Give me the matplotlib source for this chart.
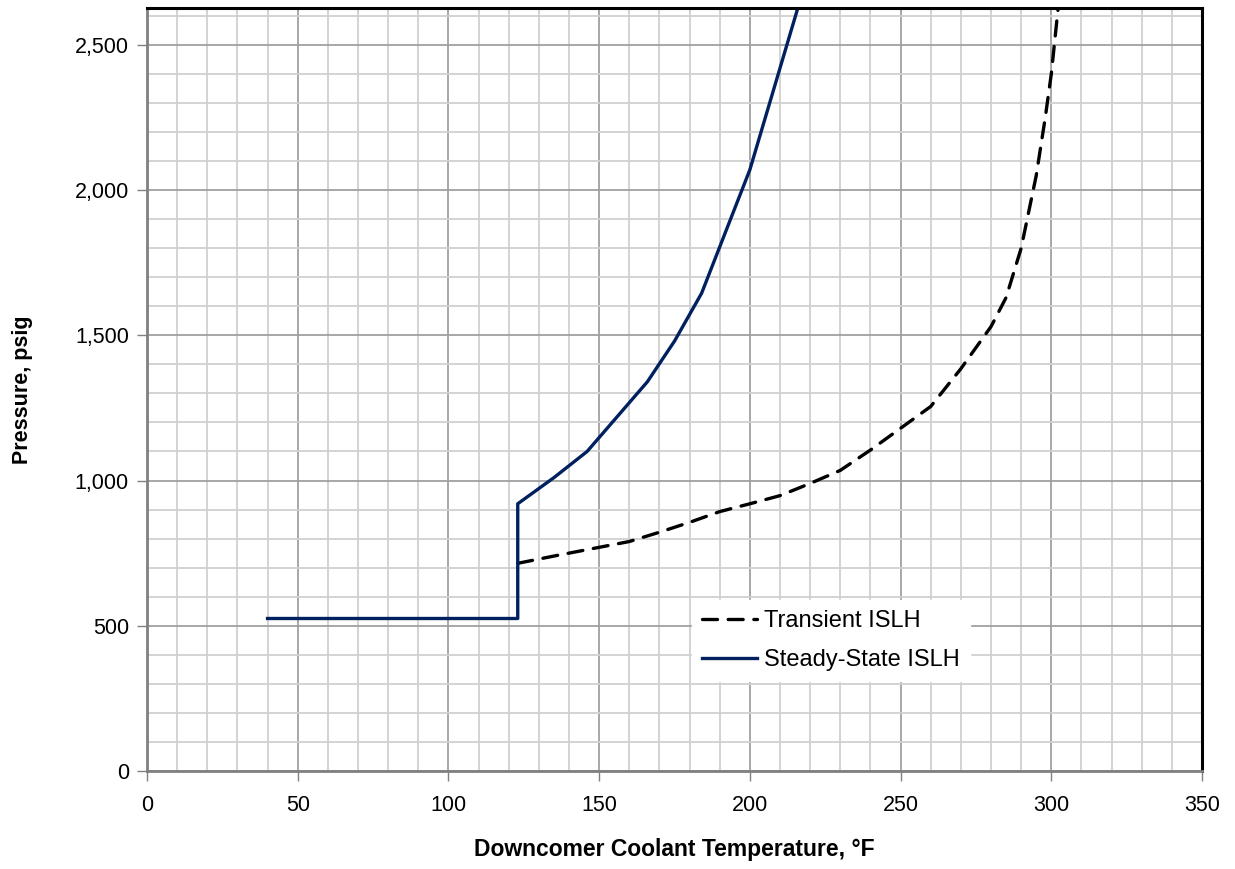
import numpy as np
import matplotlib
matplotlib.use("Agg")
import matplotlib.pyplot as plt
from matplotlib.ticker import MultipleLocator, FuncFormatter

plt.rcParams['font.family'] = ['Liberation Sans', 'DejaVu Sans']

# steady-state ISLH curve (temperature F, pressure psig)
steady_t = [40, 123, 123, 135, 146, 166, 175, 184, 200, 218]
steady_p = [525, 525, 920, 1010, 1100, 1340, 1480, 1645, 2070, 2700]

# transient ISLH curve
trans_t = [123, 135, 150, 160, 170, 180, 190, 200, 210, 220, 230, 240, 250,
           260, 270, 280, 285, 290, 295, 298, 300, 302, 303]
trans_p = [715, 740, 770, 790, 822, 856, 893, 920, 948, 990, 1035, 1105, 1180,
           1255, 1385, 1530, 1630, 1800, 2050, 2250, 2400, 2600, 2700]

fig = plt.figure(figsize=(12.35, 8.69), dpi=100)
ax = fig.add_axes([0.119, 0.1128, 0.8543, 0.878])

ax.set_xlim(0, 350)
ax.set_ylim(0, 2627)

ax.xaxis.set_major_locator(MultipleLocator(50))
ax.xaxis.set_minor_locator(MultipleLocator(10))
ax.yaxis.set_major_locator(MultipleLocator(500))
ax.yaxis.set_minor_locator(MultipleLocator(100))
ax.yaxis.set_major_formatter(FuncFormatter(lambda v, p: f"{int(v):,}"))

ax.grid(which='minor', color='#d0d0d0', linewidth=1.3)
ax.grid(which='major', color='#a0a0a0', linewidth=1.3)
ax.set_axisbelow(True)

ax.plot(trans_t, trans_p, color='black', linewidth=2.4,
        linestyle=(0, (4.5, 3.2)), dash_capstyle='round', label='Transient ISLH')
ax.plot(steady_t, steady_p, color='#002060', linewidth=2.4,
        label='Steady-State ISLH')

for s in ['left', 'bottom']:
    ax.spines[s].set_color('#808080')
    ax.spines[s].set_linewidth(2)
for s in ['top', 'right']:
    ax.spines[s].set_color('black')
    ax.spines[s].set_linewidth(2.2)

ax.tick_params(which='major', length=7, width=1, color='#808080',
               labelsize=15.5)
ax.tick_params(axis='x', pad=10)
ax.tick_params(axis='y', pad=6)
ax.tick_params(which='minor', length=0)

ax.set_xlabel('Downcomer Coolant Temperature, °F', fontsize=16.5,
              fontweight='bold', labelpad=16)
ax.set_ylabel('Pressure, psig', fontsize=15.5, fontweight='bold', labelpad=30)

leg = ax.legend(loc='upper left', bbox_to_anchor=(0.505, 0.24), fontsize=17,
                frameon=True, fancybox=False, framealpha=1, edgecolor='white',
                handlelength=2.3, borderpad=0.45, labelspacing=0.7,
                handletextpad=0.3)

fig.savefig('out.png', dpi=100)
